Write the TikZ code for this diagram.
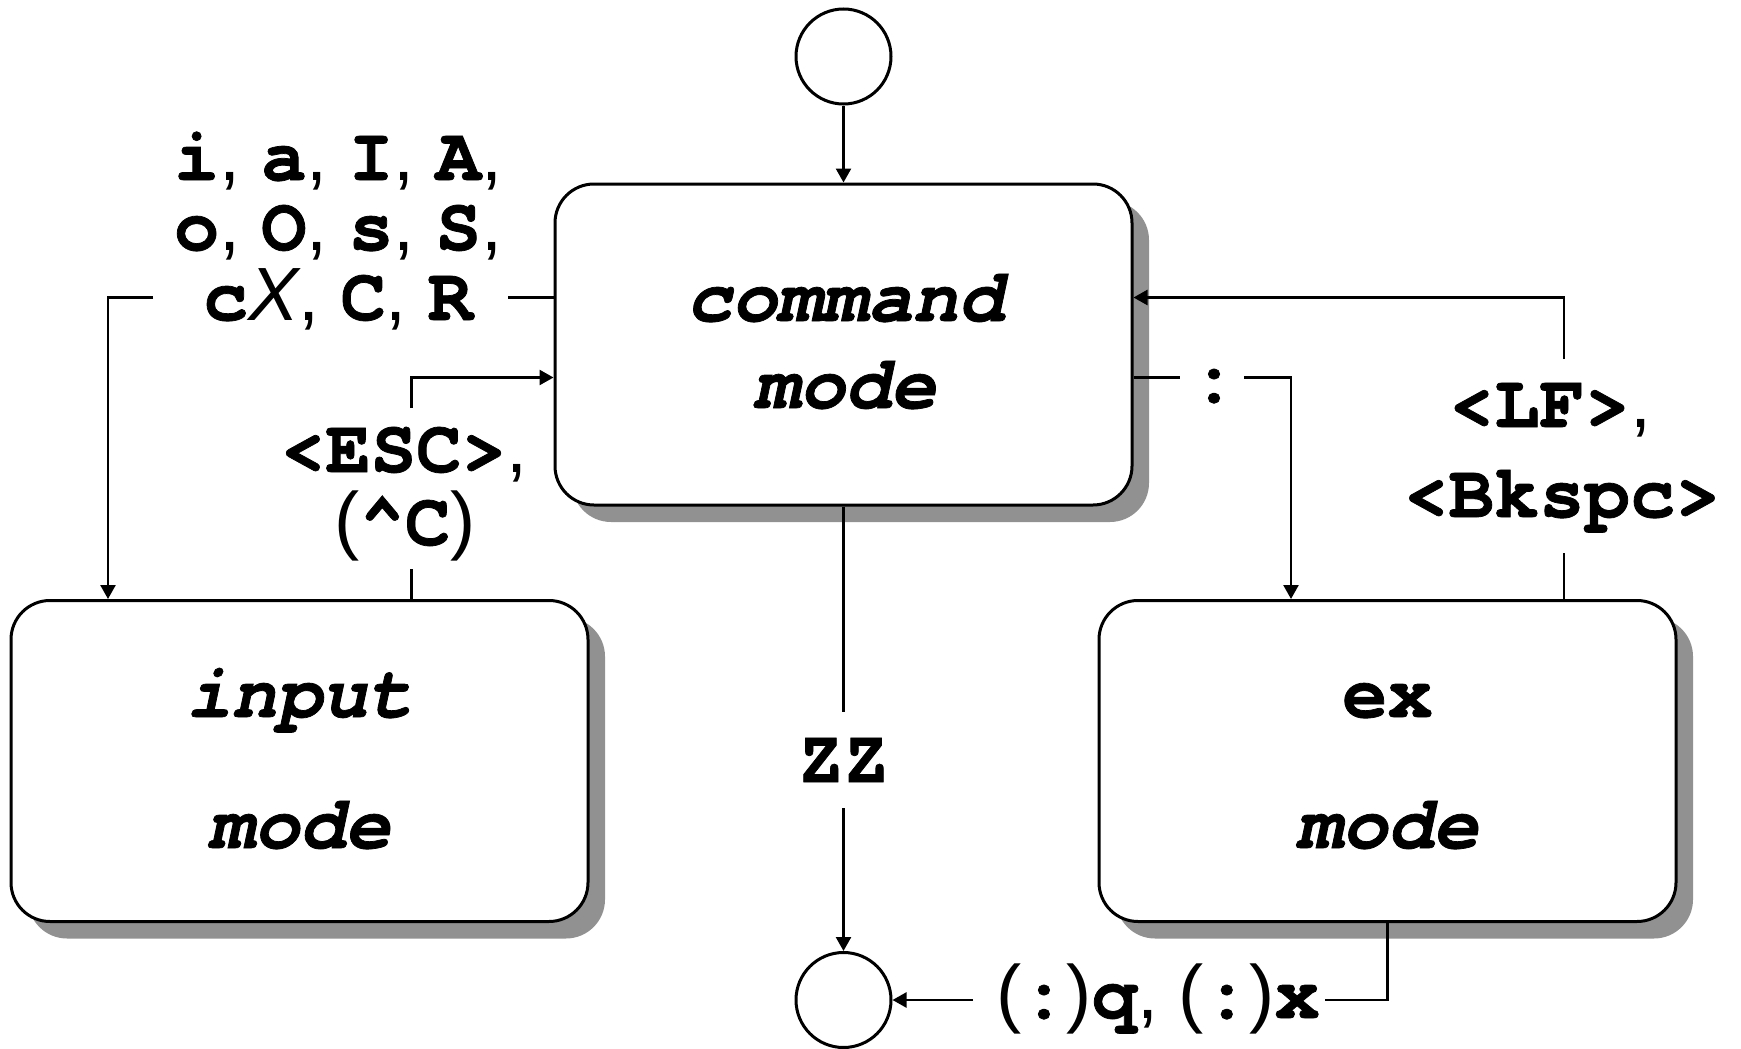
\documentclass[tikz,border=0pt]{standalone}
\usepackage{fontspec}
\usetikzlibrary{shadows,arrows.meta}
\newfontfamily\cour{TeX Gyre Cursor}[BoldFeatures={FakeBold=1}, BoldItalicFeatures={FakeBold=1}]
\newfontfamily\ari{Liberation Sans}
\newcommand\sepc{{\ari\mdseries\upshape, }}
\newcommand\lastc{{\ari\mdseries\upshape,}}
\newcommand\lp{{\ari\mdseries\upshape(}}
\newcommand\rp{{\ari\mdseries\upshape)}}
\newcommand\bigX{{\ari\mdseries\itshape X}}
\begin{document}
\begin{tikzpicture}[x=1pt,y=-1pt,
  box/.style={draw, line width=3pt, rounded corners=39pt, fill=white,
    minimum width=577pt, minimum height=321pt, inner sep=0pt,
    drop shadow={shadow xshift=17pt, shadow yshift=-17pt, fill=black!43, opacity=1}},
  state/.style={draw, circle, line width=3pt, minimum size=95pt, inner sep=0pt, fill=white},
  conn/.style={line width=2.5pt, -{Triangle[length=14pt,width=15pt]}},
  plain/.style={line width=2.5pt},
  lbl/.style={inner sep=0pt, anchor=base, font=\fontsize{75.5}{75.5}\selectfont\cour\bfseries},
  ilbl/.style={lbl, font=\fontsize{75.5}{75.5}\selectfont\cour\bfseries\itshape}]
\useasboundingbox (0,0) rectangle (1741,1049);

% states
\node[state] (start) at (843.5,56.5) {};
\node[state] (stop) at (843.5,1000) {};
\node[box] (cmd) at (843.5,344.5) {};
\node[box] (inp) at (299.5,761) {};
\node[box] (ex) at (1387.5,761) {};

% box texts
\node[ilbl] (cmdt1) at (845,321) {command};
\node[ilbl] (cmdt2) at (845,408) {mode};
\node[ilbl] (inpt1) at (299.5,717) {input};
\node[ilbl] (inpt2) at (299.5,848) {mode};
\node[lbl] (ext1) at (1387.5,717) {ex};
\node[ilbl] (ext2) at (1387.5,848) {mode};

% labels
\node[lbl] (l1) at (338,180) {i\sepc a\sepc I\sepc A\lastc};
\node[lbl] (l2) at (338,250) {o\sepc O\sepc s\sepc S\lastc};
\node[lbl] (l3) at (338,320) {c\bigX\sepc C\sepc R};
\node[lbl] (esc1) at (404,472) {<ESC>\lastc};
\node[lbl] (esc2) at (405,545) {\lp\textasciicircum C\rp};
\node[lbl] (colon) at (1214,402) {:};
\node[lbl] (lf1) at (1550,427) {<LF>\lastc};
\node[lbl] (lf2) at (1562,517) {<Bkspc>};
\node[lbl] (zz) at (843.5,782) {ZZ};
\node[lbl] (qx) at (1158,1018) {\lp:\rp q\sepc\lp:\rp x};

% coordinates
\coordinate (iaL) at (508,297.5);
\coordinate (iaR) at (153,297.5);
\coordinate (iaC) at (108,297.5);
\coordinate (e1) at (411.5,569);
\coordinate (e2) at (411.5,408);
\coordinate (e3) at (411.5,377.5);
\coordinate (k1) at (1180,377.5);
\coordinate (k2) at (1244,377.5);
\coordinate (k3) at (1291,377.5);
\coordinate (f1) at (1564,553);
\coordinate (f2) at (1564,359);
\coordinate (f3) at (1564,297.5);
\coordinate (z1) at (843.5,712);
\coordinate (z2) at (843.5,808);
\coordinate (q2) at (1325,1000);
\coordinate (q3) at (973,1000);

% connectors
\draw[conn] (start.south) -- (cmd.north);
\draw[plain] (cmd.west |- iaL) -- (iaL);
\draw[conn] (iaR) -- (iaC) -- (inp.north -| iaC);
\draw[plain] (inp.north -| e1) -- (e1);
\draw[conn] (e2) -- (e3) -- (cmd.west |- e3);
\draw[plain] (cmd.east |- k1) -- (k1);
\draw[conn] (k2) -- (k3) -- (ex.north -| k3);
\draw[plain] (ex.north -| f1) -- (f1);
\draw[conn] (f2) -- (f3) -- (cmd.east |- f3);
\draw[plain] (cmd.south) -- (z1);
\draw[conn] (z2) -- (stop.north);
\draw[plain] (ex.south) -- (ex.south |- q2) -- (q2);
\draw[conn] (q3) -- (stop.east);
\end{tikzpicture}
\end{document}
